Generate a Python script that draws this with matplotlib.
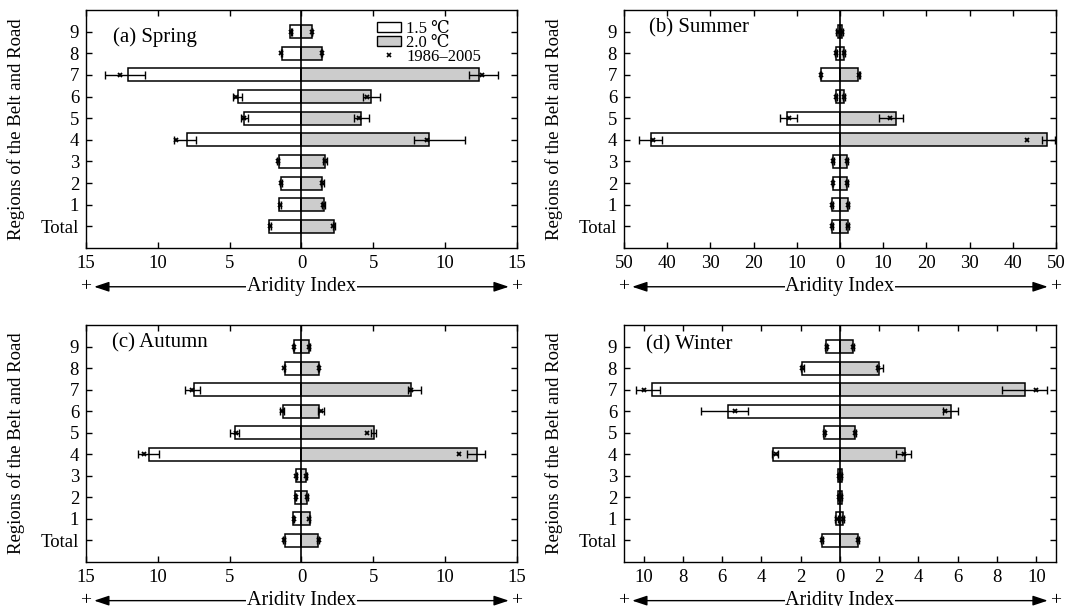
import matplotlib
matplotlib.use("Agg")
import matplotlib.pyplot as plt
from matplotlib.patches import Patch
from matplotlib.lines import Line2D
from matplotlib.ticker import FuncFormatter

plt.rcParams["font.family"] = ["Liberation Serif", "DejaVu Serif"]

# Rows from bottom to top
regions = ["Total", "1", "2", "3", "4", "5", "6", "7", "8", "9"]

# Spring
spring_15 = [2.23, 1.53, 1.42, 1.58, 8.00, 4.01, 4.41, 12.06, 1.37, 0.77]
spring_20 = [2.25, 1.58, 1.44, 1.62, 8.86, 4.11, 4.83, 12.39, 1.42, 0.72]
spring_base = [2.22, 1.50, 1.40, 1.63, 8.75, 4.00, 4.55, 12.60, 1.40, 0.72]
spring_lo15 = [2.15, 1.45, 1.35, 1.55, 7.35, 3.74, 4.15, 10.86, 1.33, 0.68]
spring_hi15 = [2.28, 1.58, 1.48, 1.70, 8.89, 4.20, 4.76, 13.64, 1.43, 0.76]
spring_lo20 = [2.20, 1.40, 1.33, 1.50, 7.82, 3.64, 4.29, 11.65, 1.38, 0.70]
spring_hi20 = [2.30, 1.62, 1.55, 1.75, 11.37, 4.69, 5.45, 13.69, 1.45, 0.76]

# Summer
summer_15 = [1.93, 1.93, 1.70, 1.70, 43.7, 12.36, 0.85, 4.48, 0.85, 0.54]
summer_20 = [1.78, 1.85, 1.62, 1.54, 47.95, 12.90, 0.85, 4.25, 0.85, 0.46]
summer_base = [1.80, 1.80, 1.60, 1.60, 43.3, 11.70, 0.90, 4.50, 0.90, 0.50]
summer_lo15 = [1.60, 1.60, 1.50, 1.40, 41.2, 9.88, 0.70, 4.30, 0.70, 0.30]
summer_hi15 = [2.10, 2.10, 1.80, 1.80, 46.6, 13.90, 1.10, 4.70, 1.10, 0.80]
summer_lo20 = [1.50, 1.60, 1.40, 1.40, 46.8, 9.03, 0.60, 4.30, 0.60, 0.30]
summer_hi20 = [2.00, 2.20, 1.80, 1.80, 49.7, 14.52, 1.10, 4.70, 1.10, 0.80]

# Autumn
autumn_15 = [1.18, 0.60, 0.44, 0.37, 10.63, 4.62, 1.29, 7.46, 1.16, 0.55]
autumn_20 = [1.18, 0.62, 0.42, 0.35, 12.25, 5.06, 1.22, 7.60, 1.25, 0.51]
autumn_base = [1.20, 0.55, 0.40, 0.35, 10.95, 4.55, 1.35, 7.60, 1.20, 0.55]
autumn_lo15 = [1.15, 0.50, 0.38, 0.30, 9.91, 4.35, 1.25, 7.03, 1.15, 0.50]
autumn_hi15 = [1.30, 0.60, 0.46, 0.40, 11.40, 4.95, 1.50, 8.13, 1.25, 0.60]
autumn_lo20 = [1.10, 0.50, 0.35, 0.30, 11.53, 4.83, 1.15, 7.42, 1.15, 0.50]
autumn_hi20 = [1.25, 0.60, 0.45, 0.40, 12.76, 5.18, 1.55, 8.30, 1.25, 0.60]

# Winter
winter_15 = [0.93, 0.20, 0.10, 0.10, 3.39, 0.80, 5.68, 9.58, 1.93, 0.73]
winter_20 = [0.90, 0.17, 0.08, 0.08, 3.32, 0.76, 5.68, 9.43, 2.00, 0.64]
winter_base = [0.92, 0.17, 0.05, 0.05, 3.25, 0.78, 5.33, 10.00, 1.95, 0.68]
winter_lo15 = [0.88, 0.10, 0.00, 0.00, 3.14, 0.75, 4.66, 9.16, 1.85, 0.65]
winter_hi15 = [0.98, 0.25, 0.12, 0.12, 3.48, 0.85, 7.07, 10.40, 2.00, 0.75]
winter_lo20 = [0.85, 0.10, 0.00, 0.00, 2.83, 0.72, 5.26, 8.23, 1.87, 0.60]
winter_hi20 = [0.95, 0.20, 0.10, 0.10, 3.60, 0.82, 5.99, 10.53, 2.20, 0.70]

panels = [
    ("(a) Spring", spring_15, spring_20, spring_base,
     spring_lo15, spring_hi15, spring_lo20, spring_hi20, 15, list(range(-15, 16, 5))),
    ("(b) Summer", summer_15, summer_20, summer_base,
     summer_lo15, summer_hi15, summer_lo20, summer_hi20, 50, list(range(-50, 51, 10))),
    ("(c) Autumn", autumn_15, autumn_20, autumn_base,
     autumn_lo15, autumn_hi15, autumn_lo20, autumn_hi20, 15, list(range(-15, 16, 5))),
    ("(d) Winter", winter_15, winter_20, winter_base,
     winter_lo15, winter_hi15, winter_lo20, winter_hi20, 11, list(range(-10, 11, 2))),
]

# axes boxes in figure fraction: left, bottom, width, height
boxes = [
    (0.0801, 0.5908, 0.4017, 0.3927),
    (0.5815, 0.5908, 0.4026, 0.3927),
    (0.0801, 0.0726, 0.4017, 0.3911),
    (0.5815, 0.0726, 0.4026, 0.3911),
]
title_pos = [(0.063, 0.888), (0.058, 0.924), (0.060, 0.924), (0.052, 0.916)]


def draw_panel(ax, title, v15, v20, base, lo15, hi15, lo20, hi20, lim, ticks, tpos):
    y = list(range(len(regions)))
    ax.barh(y, [-v for v in v15], height=0.6, color="white", edgecolor="black",
            linewidth=1.1, zorder=2)
    ax.barh(y, v20, height=0.6, color="#cccccc", edgecolor="black",
            linewidth=1.1, zorder=2)
    ax.axvline(0, color="black", lw=1.2, zorder=3)

    # error bars (ranges), left side is 1.5 degC, right side 2.0 degC
    c15 = [-(a + b) / 2 for a, b in zip(lo15, hi15)]
    e15 = [(b - a) / 2 for a, b in zip(lo15, hi15)]
    c20 = [(a + b) / 2 for a, b in zip(lo20, hi20)]
    e20 = [(b - a) / 2 for a, b in zip(lo20, hi20)]
    ax.errorbar(c15, y, xerr=e15, fmt="none", ecolor="black", elinewidth=1,
                capsize=3, capthick=1, zorder=4)
    ax.errorbar(c20, y, xerr=e20, fmt="none", ecolor="black", elinewidth=1,
                capsize=3, capthick=1, zorder=4)

    # 1986-2005 baseline on both sides
    ax.plot([-b for b in base], y, "x", color="black", ms=3.5, mew=1.3, zorder=5)
    ax.plot(base, y, "x", color="black", ms=3.5, mew=1.3, zorder=5)

    ax.set_xlim(-lim, lim)
    ax.set_ylim(-1, 10)
    ax.set_xticks(ticks)
    ax.xaxis.set_major_formatter(FuncFormatter(lambda v, p: "%d" % abs(v)))
    ax.set_yticks(y)
    ax.set_yticklabels(regions)
    ax.tick_params(direction="in", length=4, width=1, top=True, right=True,
                   labelsize=13.5, pad=5)
    for s in ax.spines.values():
        s.set_linewidth(1)
    ax.set_ylabel("Regions of the Belt and Road", fontsize=13.5)
    ax.yaxis.set_label_coords(-0.142, 0.5)
    ax.text(tpos[0], tpos[1], title, transform=ax.transAxes, fontsize=15,
            va="center", ha="left")

    # Aridity Index double arrow under the axis
    ya = -0.163
    ax.annotate("", xy=(0.019, ya), xytext=(0.981, ya), xycoords="axes fraction",
                textcoords="axes fraction", annotation_clip=False,
                arrowprops=dict(arrowstyle="<|-|>,head_length=0.45,head_width=0.15",
                                color="black", lw=1, mutation_scale=20,
                                shrinkA=0, shrinkB=0))
    ax.text(0.5, ya, "Aridity Index", transform=ax.transAxes, fontsize=14.5,
            ha="center", va="center",
            bbox=dict(facecolor="white", edgecolor="none", pad=0.5))
    ax.text(0.0, ya, "+", transform=ax.transAxes, fontsize=14, ha="center", va="center")
    ax.text(1.0, ya, "+", transform=ax.transAxes, fontsize=14, ha="center", va="center")


fig = plt.figure(figsize=(10.73, 6.06), dpi=100)
axes = []
for (title, v15, v20, base, lo15, hi15, lo20, hi20, lim, ticks), box, tpos in zip(panels, boxes, title_pos):
    ax = fig.add_axes(box)
    draw_panel(ax, title, v15, v20, base, lo15, hi15, lo20, hi20, lim, ticks, tpos)
    axes.append(ax)

handles = [
    Patch(facecolor="white", edgecolor="black", linewidth=1),
    Patch(facecolor="#cccccc", edgecolor="black", linewidth=1),
    Line2D([], [], marker="x", color="black", linestyle="none", ms=3, mew=1.2),
]
axes[0].legend(handles, ["1.5 \u2103", "2.0 \u2103", "1986\u20132005"],
               loc="upper left", bbox_to_anchor=(0.676, 0.955), frameon=False,
               fontsize=12, handlelength=1.45, handleheight=0.5, handletextpad=0.3,
               labelspacing=-0.12, borderpad=0, borderaxespad=0)

fig.savefig("out.png", dpi=100)
